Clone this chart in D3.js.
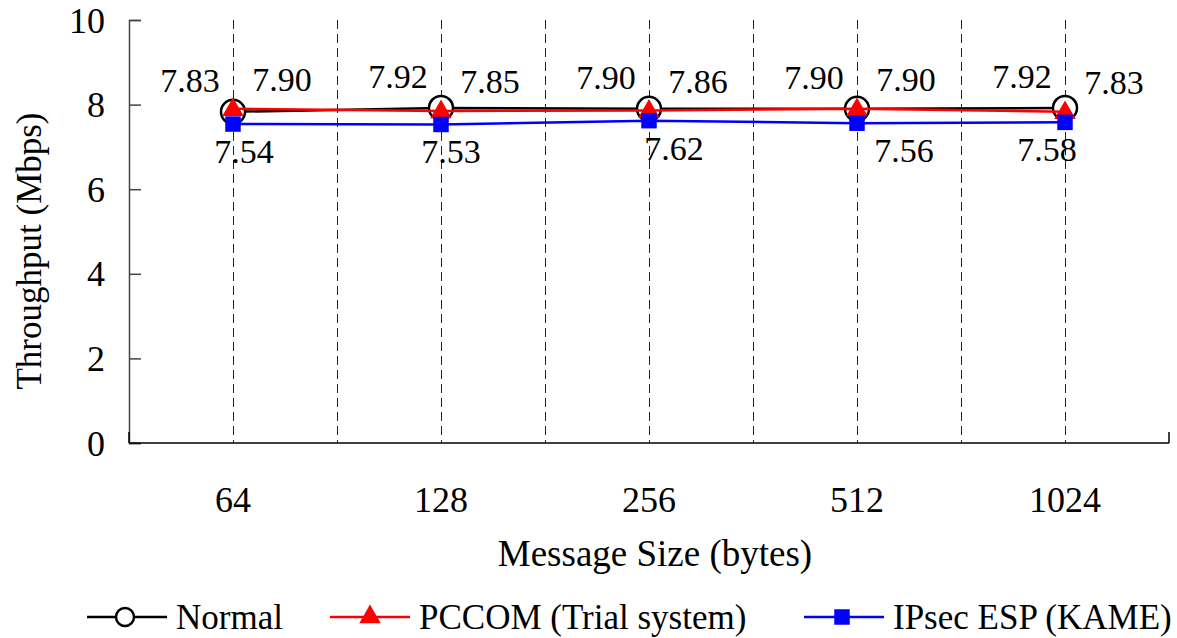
<!DOCTYPE html>
<html>
<head>
<meta charset="utf-8">
<script src="https://cdn.jsdelivr.net/npm/d3@7"></script>
<style>
  body { margin: 0; background: #fff; }
  svg text { font-family: "Liberation Serif", "DejaVu Serif", serif; fill: #000; }
</style>
</head>
<body>
<div id="chart"></div>
<script>
var sizes = ["64", "128", "256", "512", "1024"];
var normal = [7.83, 7.92, 7.90, 7.90, 7.92];
var pccom = [7.90, 7.85, 7.86, 7.90, 7.83];
var ipsec = [7.54, 7.53, 7.62, 7.56, 7.58];
var yTicks = [0, 2, 4, 6, 8, 10];

// label nudges (pixels) so the numbers sit where the original put them
var ipsecShift = [11, 10, 25, 47, -18];

function drawChart() {
   var width = 1177, height = 638;
   var pLeft = 129, pRight = 1169, pTop = 20, pBottom = 443;

   var svg = d3.select("#chart").append("svg")
      .attr("width", width)
      .attr("height", height)
      .attr("font-family", "Liberation Serif, serif");

   var x = d3.scaleBand().domain(sizes).range([pLeft, pRight]).padding(0);
   var y = d3.scaleLinear().domain([0, 10]).range([pBottom, pTop]);
   var cx = function(d, i) { return x(sizes[i]) + x.bandwidth() / 2; };

   // dashed verticals: category centres and category boundaries
   var vlines = sizes.map(function(s) { return Math.round(x(s) + x.bandwidth() / 2) + 0.5; })
      .concat(sizes.slice(1).map(function(s) { return Math.round(x(s)) + 0.5; }));
   svg.selectAll(".vgrid")
      .data(vlines)
      .enter().append("line")
      .attr("class", "vgrid")
      .attr("x1", function(d) { return d; })
      .attr("x2", function(d) { return d; })
      .attr("y1", pTop)
      .attr("y2", pBottom)
      .attr("stroke", "#222")
      .attr("stroke-width", 1)
      .attr("stroke-dasharray", "9,5")
      .attr("shape-rendering", "crispEdges");

   // y axis
   var yAxis = svg.append("g")
      .attr("transform", "translate(" + pLeft + ",0)")
      .call(d3.axisRight(y).tickValues(yTicks).tickSize(12).tickFormat(""));
   yAxis.select(".domain").attr("stroke", "#444").attr("stroke-width", 1.5);
   yAxis.selectAll(".tick line").attr("stroke", "#444").attr("stroke-width", 1.5);

   svg.selectAll(".ylab")
      .data(yTicks)
      .enter().append("text")
      .attr("class", "ylab")
      .attr("x", pLeft - 24)
      .attr("y", function(d) { return y(d); })
      .attr("dy", "0.35em")
      .attr("text-anchor", "end")
      .style("font-size", "36px")
      .text(function(d) { return d; });

   // x axis
   svg.append("line")
      .attr("x1", pLeft).attr("x2", pRight)
      .attr("y1", pBottom).attr("y2", pBottom)
      .attr("stroke", "#000").attr("stroke-width", 1.5);
   svg.selectAll(".xtick")
      .data([pLeft, pRight])
      .enter().append("line")
      .attr("x1", function(d) { return d; })
      .attr("x2", function(d) { return d; })
      .attr("y1", pBottom - 11)
      .attr("y2", pBottom)
      .attr("stroke", "#000").attr("stroke-width", 1.5);

   svg.selectAll(".xlab")
      .data(sizes)
      .enter().append("text")
      .attr("class", "xlab")
      .attr("x", function(d) { return x(d) + x.bandwidth() / 2; })
      .attr("y", 512)
      .attr("text-anchor", "middle")
      .style("font-size", "36px")
      .text(function(d) { return d; });

   svg.append("text")
      .attr("x", 655)
      .attr("y", 566)
      .attr("text-anchor", "middle")
      .style("font-size", "37px")
      .text("Message Size (bytes)");

   svg.append("text")
      .attr("transform", "translate(41," + 251 + ") rotate(-90)")
      .attr("text-anchor", "middle")
      .style("font-size", "35px")
      .text("Throughput (Mbps)");

   // series
   var line = d3.line()
      .x(function(d, i) { return cx(d, i); })
      .y(function(d) { return y(d); });

   var tri = d3.symbol().type(d3.symbolTriangle).size(200);
   var sq = d3.symbol().type(d3.symbolSquare).size(240);

   function drawSeries(data, color, marker) {
      svg.append("path")
         .datum(data)
         .attr("d", line)
         .attr("fill", "none")
         .attr("stroke", color)
         .attr("stroke-width", 2.5);
      var g = svg.append("g");
      data.forEach(function(v, i) {
         var px = cx(v, i), py = y(v);
         if (marker === "circle") {
            g.append("circle").attr("cx", px).attr("cy", py).attr("r", 12)
               .attr("fill", "#fff").attr("stroke", "#000").attr("stroke-width", 2.5);
         } else if (marker === "triangle") {
            g.append("path").attr("d", tri).attr("fill", "#f00")
               .attr("transform", "translate(" + px + "," + (py + 1) + ")");
         } else {
            g.append("path").attr("d", sq).attr("fill", "#00f")
               .attr("transform", "translate(" + px + "," + py + ")");
         }
      });
   }

   drawSeries(normal, "#000", "circle");
   drawSeries(pccom, "#f00", "triangle");
   drawSeries(ipsec, "#00f", "square");

   // value labels
   svg.selectAll(".nlab")
      .data(normal)
      .enter().append("text")
      .attr("x", function(d, i) { return cx(d, i) - 43; })
      .attr("y", function(d) { return y(d) - 20; })
      .attr("text-anchor", "middle")
      .style("font-size", "34px")
      .text(function(d) { return d.toFixed(2); });

   svg.selectAll(".plab")
      .data(pccom)
      .enter().append("text")
      .attr("x", function(d, i) { return cx(d, i) + 49; })
      .attr("y", function(d) { return y(d) - 18; })
      .attr("text-anchor", "middle")
      .style("font-size", "34px")
      .text(function(d) { return d.toFixed(2); });

   svg.selectAll(".ilab")
      .data(ipsec)
      .enter().append("text")
      .attr("x", function(d, i) { return cx(d, i) + ipsecShift[i]; })
      .attr("y", function(d) { return y(d) + 39; })
      .attr("text-anchor", "middle")
      .style("font-size", "34px")
      .text(function(d) { return d.toFixed(2); });

   // legend
   var legend = [
      { name: "Normal", color: "#000", marker: "circle", x: 87 },
      { name: "PCCOM (Trial system)", color: "#f00", marker: "triangle", x: 330 },
      { name: "IPsec ESP (KAME)", color: "#00f", marker: "square", x: 804 }
   ];
   var ly = 617;
   legend.forEach(function(l) {
      svg.append("line")
         .attr("x1", l.x).attr("x2", l.x + 80)
         .attr("y1", ly).attr("y2", ly)
         .attr("stroke", l.color).attr("stroke-width", 2.5);
      var mx = l.x + 38;
      if (l.marker === "circle") {
         svg.append("circle").attr("cx", mx).attr("cy", ly).attr("r", 9)
            .attr("fill", "#fff").attr("stroke", "#000").attr("stroke-width", 2.5);
      } else if (l.marker === "triangle") {
         svg.append("path").attr("d", tri).attr("fill", "#f00")
            .attr("transform", "translate(" + (mx + 2) + "," + ly + ")");
      } else {
         svg.append("path").attr("d", sq).attr("fill", "#00f")
            .attr("transform", "translate(" + mx + "," + ly + ")");
      }
      svg.append("text")
         .attr("x", l.x + 89)
         .attr("y", ly + 12)
         .style("font-size", "35px")
         .text(l.name);
   });
}

drawChart();
</script>
</body>
</html>
